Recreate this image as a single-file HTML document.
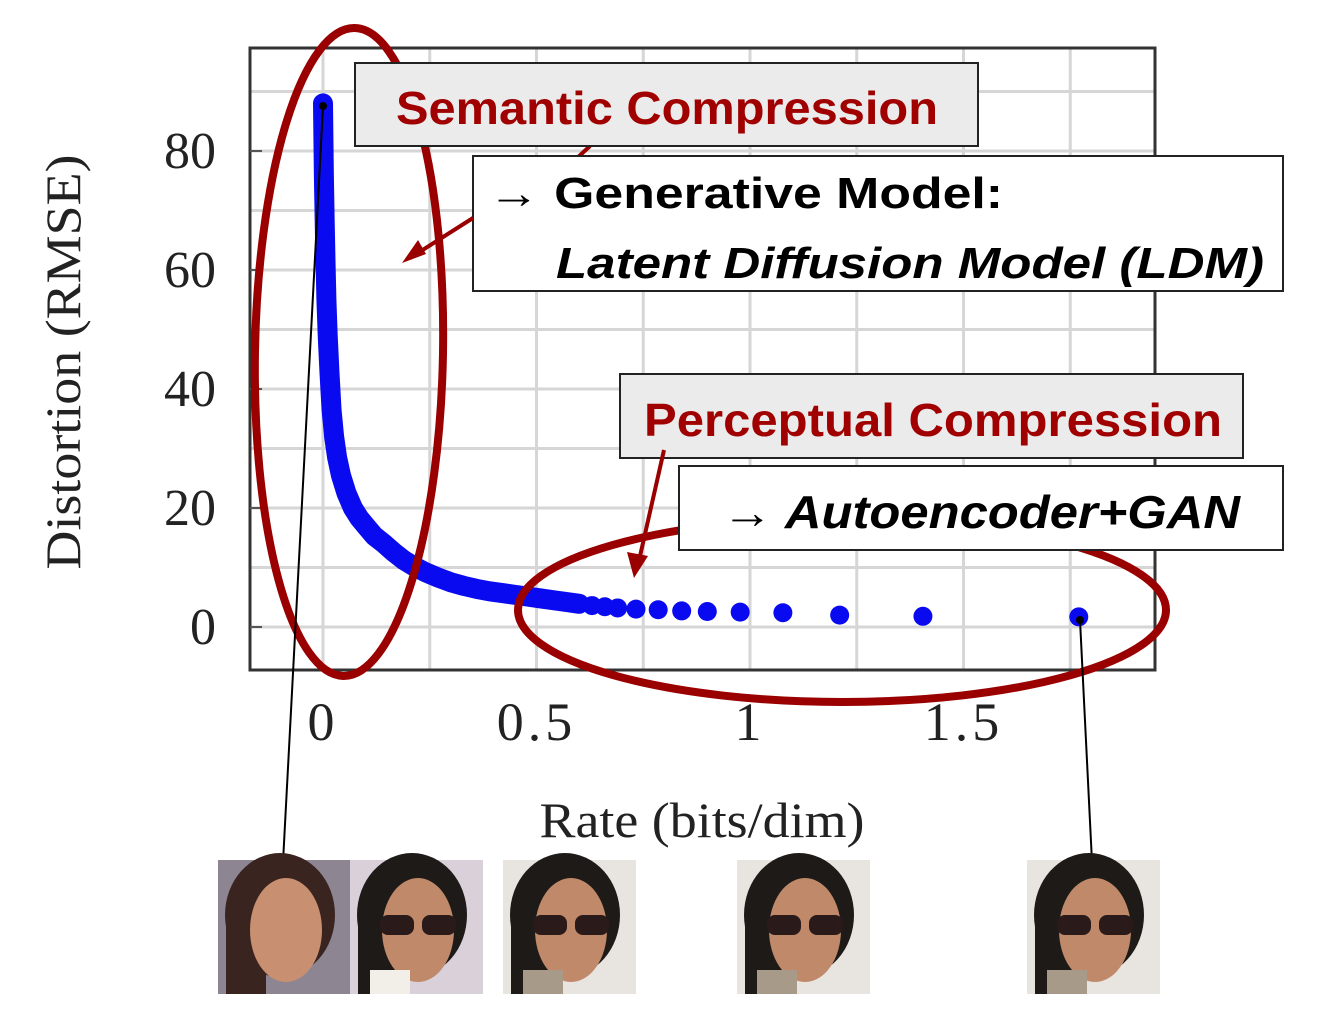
<!DOCTYPE html>
<html><head><meta charset="utf-8"><style>
html,body{margin:0;padding:0;background:#fff;width:1320px;height:1028px;overflow:hidden}
svg{display:block}
.ser{font-family:"Liberation Serif",serif;fill:#222}
.cal{font-family:"Liberation Sans",sans-serif;font-weight:bold}
</style></head><body>
<svg id="chart" width="1320" height="1028" viewBox="0 0 1320 1028">
<g id="grid"></g>
<rect x="250" y="48" width="905" height="622" fill="none" stroke="#333" stroke-width="3"/>
<g id="yticks"></g>
<g id="xticks"></g>
<text class="ser" x="0" y="0" font-size="50" text-anchor="middle" textLength="415" lengthAdjust="spacingAndGlyphs" transform="translate(80,362) rotate(-90)">Distortion (RMSE)</text>
<text class="ser" x="702" y="837" font-size="50" text-anchor="middle" textLength="325" lengthAdjust="spacingAndGlyphs">Rate (bits/dim)</text>
<g id="series"></g>
<ellipse cx="349" cy="352" rx="94" ry="324" fill="none" stroke="#9a0000" stroke-width="8" transform="rotate(1 349 352)"/>
<ellipse cx="842" cy="610" rx="324" ry="92" fill="none" stroke="#9a0000" stroke-width="8"/>
<line x1="323" y1="106" x2="283" y2="862" stroke="#000" stroke-width="2"/>
<circle cx="323" cy="106" r="4" fill="#000"/>
<line x1="1080" y1="620" x2="1092" y2="862" stroke="#000" stroke-width="2"/>
<circle cx="1080" cy="620" r="4" fill="#000"/>
<line x1="590" y1="146" x2="575" y2="160" stroke="#9a0000" stroke-width="4"/>
<rect x="355" y="63" width="623" height="83" fill="#ebebeb" stroke="#222" stroke-width="2"/>
<text class="cal" x="396" y="124" font-size="46" fill="#a00000" textLength="542" lengthAdjust="spacingAndGlyphs">Semantic Compression</text>
<rect x="473" y="156" width="810" height="135" fill="#fff" stroke="#222" stroke-width="2"/>
<text class="cal" x="488" y="208" font-size="44" fill="#000" textLength="515" lengthAdjust="spacingAndGlyphs">→ Generative Model:</text>
<text class="cal" x="556" y="278" font-size="44" font-style="italic" fill="#000" textLength="708" lengthAdjust="spacingAndGlyphs">Latent Diffusion Model (LDM)</text>
<line x1="473" y1="218" x2="410" y2="258" stroke="#9a0000" stroke-width="4"/>
<polygon points="402,263 418,240 426,254" fill="#9a0000"/>
<rect x="620" y="374" width="623" height="84" fill="#ebebeb" stroke="#222" stroke-width="2"/>
<text class="cal" x="644" y="436" font-size="46" fill="#a00000" textLength="578" lengthAdjust="spacingAndGlyphs">Perceptual Compression</text>
<line x1="664" y1="450" x2="638" y2="565" stroke="#9a0000" stroke-width="4"/>
<polygon points="634,578 627,552 648,556" fill="#9a0000"/>
<rect x="679" y="466" width="604" height="84" fill="#fff" stroke="#222" stroke-width="2"/>
<text class="cal" x="722" y="528" font-size="46" font-style="italic" fill="#000" textLength="518" lengthAdjust="spacingAndGlyphs">→ Autoencoder+GAN</text>
<g id="faces"></g>
</svg>
<script>
const yTicks=[0,20,40,60,80];
const xTicks=[0,0.5,1,1.5];
const xTickLabels=["0","0.5","1","1.5"];
const yGrid=[0,10,20,30,40,50,60,70,80,90];
const xGrid=[0,0.25,0.5,0.75,1,1.25,1.5,1.75];
const rates=[0,0.001,0.002,0.004,0.006,0.008,0.011,0.015,0.02,0.026,0.033,0.042,0.055,0.07,0.085,0.1,0.12,0.143,0.165,0.19,0.213,0.24,0.27,0.3,0.33,0.36,0.39,0.42,0.45,0.48,0.51,0.54,0.57,0.6,0.63,0.66,0.69,0.733,0.785,0.84,0.9,0.977,1.077,1.21,1.405,1.77];
const distortions=[88,82,76,68,61,55,49,43,36.5,32,28.5,25.5,22.5,20,18.3,17,15.3,14,12.6,11.2,10.2,9.2,8.3,7.5,6.9,6.4,6,5.7,5.4,5.1,4.8,4.5,4.2,3.9,3.6,3.4,3.2,3.0,2.9,2.7,2.6,2.5,2.4,2.0,1.8,1.7];
const NS="http://www.w3.org/2000/svg";
const X=v=>323+v*427;
const Y=v=>627-v*5.95;
function mk(t,a,p){const e=document.createElementNS(NS,t);for(const k in a)e.setAttribute(k,a[k]);p.appendChild(e);return e;}
const g=document.getElementById('grid');
yGrid.forEach(v=>{const l=mk('line',{x1:250,x2:1155,y1:Y(v),y2:Y(v),stroke:'#d6d6d6','stroke-width':3},g);

});
xGrid.forEach(v=>{const l=mk('line',{x1:X(v),x2:X(v),y1:48,y2:670,stroke:'#d6d6d6','stroke-width':3},g);

});
const yt=document.getElementById('yticks');
yTicks.forEach(v=>{const t=mk('text',{x:216,y:Y(v)+17,'font-size':52,'text-anchor':'end',class:'ser'},yt);t.textContent=v;


mk('line',{x1:250,x2:262,y1:Y(v),y2:Y(v),stroke:'#555','stroke-width':2},yt);});
const xt=document.getElementById('xticks');
xTicks.forEach((v,i)=>{const t=mk('text',{x:X(v),y:740,'font-size':54,'text-anchor':'middle','letter-spacing':4,class:'ser'},xt);t.textContent=xTickLabels[i];

});
const s=document.getElementById('series');
const dense=rates.map((r,i)=>[r,distortions[i]]).filter(p=>p[0]<=0.6);
const pl=mk('polyline',{points:dense.map(p=>X(p[0])+','+Y(p[1])).join(' '),fill:'none',stroke:'#0a0af0','stroke-width':20,'stroke-linejoin':'round','stroke-linecap':'round'},s);


rates.forEach((r,i)=>{const c=mk('circle',{cx:X(r),cy:Y(distortions[i]),r:9.5,fill:'#0a0af0'},s);

});
const faces=document.getElementById('faces');
const faceX=[218,350,503,737,1027];
faceX.forEach((fx,i)=>{const f=mk('g',{},faces);


const bg=i==0?'#8e8593':(i==1?'#d9d0d9':'#e8e4e0');
mk('rect',{x:fx,y:860,width:133,height:134,fill:bg},f);
const hair=i==0?'#3a2420':'#1e1a18';
mk('ellipse',{cx:fx+62,cy:915,rx:55,ry:62,fill:hair},f);
mk('rect',{x:fx+8,y:915,width:40,height:79,fill:hair},f);
mk('ellipse',{cx:fx+68,cy:930,rx:36,ry:52,fill:i==0?'#c89070':'#c08a6a'},f);
if(i>0){mk('rect',{x:fx+30,y:915,width:34,height:20,rx:8,fill:'#2a1a1a'},f);
mk('rect',{x:fx+72,y:915,width:34,height:20,rx:8,fill:'#2a1a1a'},f);
mk('rect',{x:fx+20,y:970,width:40,height:24,fill:i==1?'#f2eee8':'#a89a88'},f);}
});
</script>
</body></html>
